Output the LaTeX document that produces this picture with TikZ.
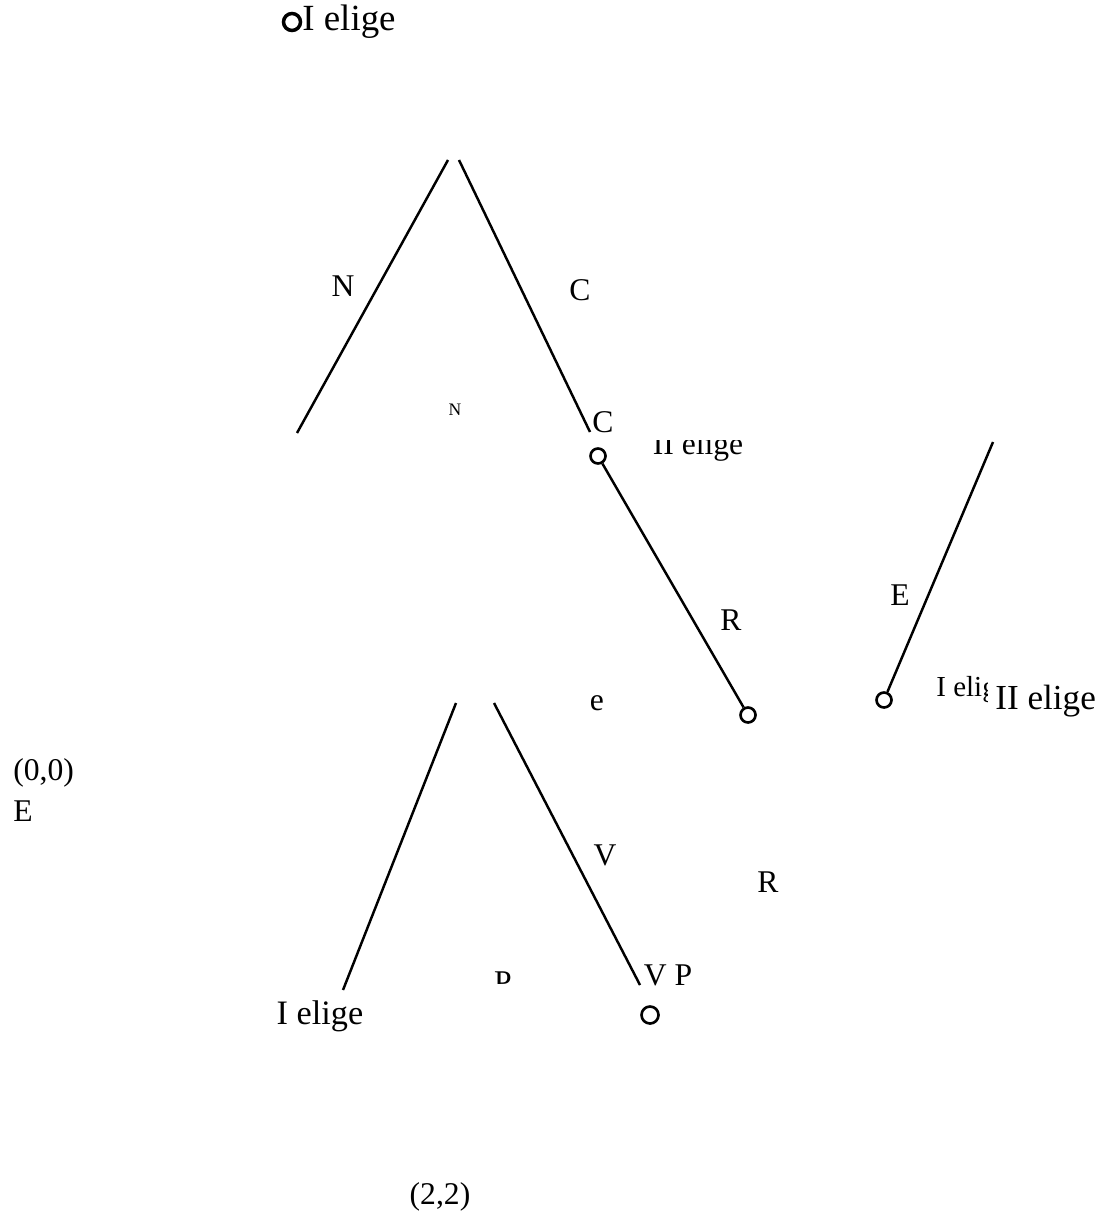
\documentclass[tikz,border=0pt]{standalone}
\usepackage{fontspec}
\setmainfont{Liberation Serif}
\usetikzlibrary{positioning}

\begin{document}
\begin{tikzpicture}[
  x=0.02cm, y=-0.02cm,
  branch/.style={line width=1.4pt},
  knot/.style={circle, draw, line width=1.5pt, inner sep=0pt, minimum size=0.3cm},
  big/.style={inner sep=0pt, font=\fontsize{20}{24}\selectfont},
  mid/.style={inner sep=0pt, font=\fontsize{18}{22}\selectfont},
  tiny/.style={inner sep=0pt, font=\fontsize{10}{12}\selectfont}
]
  \useasboundingbox (0,0) rectangle (1103,1212);

  % top player label
  \node[knot, line width=2pt, minimum size=0.34cm] (k0) at (292,22) {};
  \node[big, font=\fontsize{21}{25}\selectfont, anchor=west] (p0) at (302,22) {I elige};

  % first split
  \coordinate (r1) at (448,160);
  \coordinate (r2) at (459,160);
  \coordinate (n1) at (297,433);
  \coordinate (c1) at (590,432);
  \draw[branch] (r1) -- (n1);
  \draw[branch] (r2) -- (c1);
  \node[mid] (lN) at (343,286) {N};
  \node[mid] (lC) at (580,290) {C};
  \node[tiny] (sN) at (455,410) {N};
  \node[mid] (sC) at (603,422) {C};

  % second player
  \node[knot] (k1) at (598,456) {};
  \node[knot] (k2) at (748,715) {};
  \draw[branch] (k1) -- (k2);
  \begin{scope}
    \clip (640,441) rectangle (760,475);
    \node[mid, anchor=base] (p1) at (698,455) {II elige};
  \end{scope}
  \node[mid] (lR) at (731,620) {R};

  % right branch
  \coordinate (e1) at (993,442);
  \node[knot] (k3) at (884,700) {};
  \draw[branch] (e1) -- (k3);
  \node[mid] (lE) at (900,595) {E};
  \begin{scope}
    \clip (930,660) rectangle (987,710);
    \node[mid, font=\fontsize{16.5}{20}\selectfont, anchor=base west] (p2) at (936,696) {I elige};
  \end{scope}
  \node[big, anchor=west] (p3) at (995,701) {II elige};

  \node[mid] (se) at (597,703) {e};

  % lower split
  \coordinate (d1) at (456,703);
  \coordinate (d2) at (494,703);
  \coordinate (v1) at (343,990);
  \coordinate (v2) at (640,985);
  \draw[branch] (d1) -- (v1);
  \draw[branch] (d2) -- (v2);
  \node[mid] (lV) at (605,855) {V};
  \node[mid] (lR2) at (768,882) {R};
  \begin{scope}
    \clip (490,955) rectangle (520,983);
    \node[mid] (sP) at (503,982) {P};
  \end{scope}
  \node[mid] (sVP) at (668,975) {V P};
  \node[knot, minimum size=0.34cm] (k4) at (650,1015) {};
  \node[mid, font=\fontsize{19.5}{23}\selectfont] (p4) at (320,1016) {I elige};

  % payoffs
  \node[mid, anchor=west] (u1) at (13,773) {(0,0)};
  \node[mid, anchor=west] (u2) at (13,811) {E};
  \node[mid] (u3) at (440,1197) {(2,2)};
\end{tikzpicture}
\end{document}
